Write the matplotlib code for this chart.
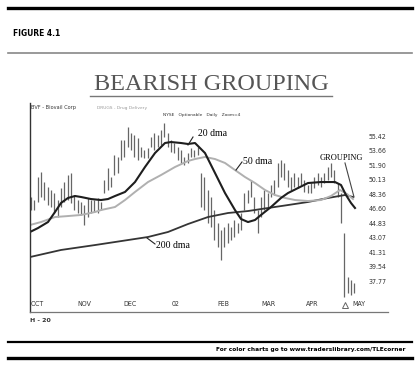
from matplotlib import pyplot as plt
from matplotlib.lines import Line2D

W, H = 420, 369

# 日线的最高价和最低价
bar_high = [48.12, 47.75, 50.55, 51.16, 49.94, 49.33, 48.97, 48.60, 47.75, 49.21,
            49.94, 50.79, 51.04, 48.36, 47.75, 47.51, 47.14, 48.00, 47.75, 47.75,
            48.00, 47.51, 50.19, 51.65, 50.55, 53.23, 52.99, 55.05, 55.05, 56.64,
            55.91, 55.66, 55.30, 54.20, 53.84, 54.08, 55.42, 55.91, 55.66, 56.27,
            57.12, 55.91, 55.05, 54.69, 54.20, 53.84, 52.99, 53.47, 54.08, 53.84,
            54.20, 51.04, 50.55, 48.97, 48.12, 46.53, 44.95, 44.10, 44.47, 44.95,
            44.47, 45.32, 44.95, 46.17, 48.60, 48.97, 50.19, 48.12, 46.53, 48.12,
            48.97, 48.60, 49.58, 50.19, 52.26, 52.62, 52.26, 51.40, 50.55, 51.04,
            50.55, 51.04, 50.19, 49.58, 49.82, 50.55, 51.04, 50.55, 51.04, 51.77,
            52.26, 51.40, 49.82, 48.60, 43.74, 38.38, 38.01, 37.65]
bar_low = [46.53, 46.53, 47.51, 48.12, 47.75, 47.14, 46.90, 46.17, 45.68, 46.90,
           47.51, 47.75, 47.39, 46.53, 46.17, 45.93, 44.71, 45.68, 46.17, 46.29,
           46.17, 46.53, 48.60, 48.97, 49.33, 50.79, 51.04, 52.62, 52.99, 54.20,
           53.84, 52.99, 52.62, 52.99, 52.86, 52.86, 54.20, 53.84, 54.20, 54.45,
           55.42, 54.20, 53.59, 53.47, 52.62, 52.26, 52.01, 52.26, 52.99, 52.99,
           53.23, 46.90, 46.53, 44.95, 44.47, 42.88, 42.03, 40.45, 42.03, 42.52,
           42.88, 43.25, 43.74, 44.10, 46.53, 47.39, 48.12, 46.17, 43.74, 45.68,
           46.53, 46.90, 48.12, 48.36, 49.33, 50.55, 50.19, 49.33, 48.97, 49.33,
           49.21, 49.58, 48.73, 48.60, 48.60, 49.21, 49.58, 49.33, 49.82, 50.19,
           50.55, 49.82, 48.12, 44.95, 35.95, 36.43, 36.19, 36.43]

# 移动平均线
ma20_x = [-0.3, 2.1, 5.1, 7.2, 9.0, 11.1, 13.2, 15.0, 18.0, 21.0, 23.1, 25.2, 28.2,
          31.2, 34.2, 37.2, 40.2, 42.0, 45.0, 47.1, 49.2, 52.2, 55.2, 58.2, 61.2,
          63.0, 65.1, 67.2, 69.0, 72.0, 75.0, 77.1, 80.1, 83.1, 87.0, 91.2, 93.0,
          94.5, 96.0, 97.2]
ma20_y = [43.86, 44.34, 45.07, 46.29, 47.39, 48.00, 48.24, 48.12, 47.87, 47.75, 47.87,
          48.24, 48.73, 49.94, 51.77, 53.47, 54.69, 54.81, 54.69, 54.57, 54.69, 53.47,
          51.04, 48.60, 46.53, 45.44, 45.07, 45.32, 45.93, 46.90, 48.00, 48.60, 49.21,
          49.82, 49.94, 49.94, 49.58, 48.36, 47.39, 46.78]
ma50_x = [-0.3, 3.0, 7.2, 11.1, 15.0, 19.2, 21.0, 25.2, 28.2, 31.2, 35.1, 39.0, 43.2,
          47.1, 49.2, 52.2, 55.2, 58.2, 61.2, 64.2, 67.2, 70.2, 73.2, 76.2, 79.2,
          83.1, 87.0, 90.0, 92.7, 94.8, 96.6]
ma50_y = [44.71, 45.07, 45.68, 45.80, 45.93, 46.29, 46.53, 46.90, 47.75, 48.73, 49.94,
          50.79, 51.77, 52.50, 52.74, 52.99, 52.74, 52.26, 51.40, 50.55, 49.82, 48.97,
          48.36, 48.00, 47.75, 47.63, 47.75, 48.24, 48.97, 48.48, 47.87]
ma200_x = [-0.3, 9.0, 19.2, 29.1, 35.1, 41.1, 47.1, 53.1, 59.1, 65.1, 71.1, 77.1,
           83.1, 89.1, 94.2, 96.6]
ma200_y = [40.81, 41.67, 42.27, 42.88, 43.25, 43.86, 44.83, 45.68, 46.17, 46.41,
           46.78, 47.14, 47.51, 48.00, 48.36, 48.12]

price_ticks = [55.42, 53.66, 51.90, 50.13, 48.36, 46.60, 44.83, 43.07, 41.31, 39.54, 37.77]
month_labels = ['OCT', 'NOV', 'DEC', '02', 'FEB', 'MAR', 'APR', 'MAY']
month_pos = [0.0, 13.8, 27.6, 42.3, 55.8, 69.0, 82.5, 96.3]

serif = ['Liberation Serif', 'DejaVu Serif']

fig = plt.figure(figsize=(W / 100, H / 100), dpi=100)
fig.patch.set_facecolor('white')


def fx(px):
    return px / W


def fy(py):
    return 1 - py / H


def hline(py, x0, x1, color, lw):
    fig.add_artist(Line2D([fx(x0), fx(x1)], [fy(py), fy(py)], color=color, lw=lw,
                          transform=fig.transFigure))


# 页面装饰线
hline(8, 8, 412, 'black', 2.4)
hline(53, 8, 412, '#888888', 1.2)
hline(96, 90, 332, '#777777', 1.0)
hline(342, 8, 412, 'black', 1.6)
hline(358, 8, 412, 'black', 2.4)

fig.text(fx(13), fy(33), 'FIGURE 4.1', weight='bold', fontsize=6, stretch='condensed',
         va='center', ha='left')
fig.text(fx(211), fy(84), 'BEARISH GROUPING', family=serif, fontsize=17.5,
         color='#555555', ha='center', va='center')
fig.text(fx(31), fy(108), 'BVF - Biovail Corp', fontsize=3.6, color='#333333',
         va='center', ha='left')
fig.text(fx(97), fy(108), 'DRUGS - Drug Delivery', fontsize=3.2, color='#999999',
         va='center', ha='left')
fig.text(fx(163), fy(115), 'NYSE   Optionable   Daily   Zoom=4', fontsize=3.2,
         color='#333333', va='center', ha='left')
fig.text(fx(30), fy(321), 'H - 20', fontsize=4.5, weight='bold', color='#333333',
         va='center', ha='left')
fig.text(fx(405), fy(350), 'For color charts go to www.traderslibrary.com/TLEcorner',
         fontsize=4.2, weight='bold', va='center', ha='right')

ax = fig.add_axes([fx(30), fy(312), fx(388) - fx(30), fy(103) - fy(312)])
ax.set_xlim(-0.3, 107.1)
ax.set_ylim(34.12, 59.56)
for s in ['top', 'right']:
    ax.spines[s].set_visible(False)
ax.spines['left'].set_color('#333333')
ax.spines['bottom'].set_color('#777777')
ax.spines['left'].set_linewidth(1.0)
ax.spines['bottom'].set_linewidth(0.9)
ax.set_xticks([])
ax.set_yticks([])
ax.patch.set_alpha(0)

idx = list(range(len(bar_high)))
ax.vlines(idx, bar_low, bar_high, color='#666666', lw=0.9)

ax.plot(ma200_x, ma200_y, color='#353535', lw=1.3)
ax.plot(ma50_x, ma50_y, color='#b0b0b0', lw=1.4)
ax.plot(ma20_x, ma20_y, color='#1e1e1e', lw=1.5)

# 标注
ax.text(50.1, 55.79, '20 dma', family=serif, fontsize=7, va='center', ha='left')
ax.plot([48.6, 47.1], [55.42, 54.45], color='#222222', lw=0.8)
ax.text(63.6, 52.38, '50 dma', family=serif, fontsize=7, va='center', ha='left')
ax.plot([63.3, 61.5], [52.38, 51.40], color='#222222', lw=0.8)
ax.text(37.5, 42.27, '200 dma', family=serif, fontsize=7, va='center', ha='left')
ax.plot([37.2, 34.8], [42.40, 43.13], color='#222222', lw=0.8)
ax.text(86.7, 52.86, 'GROUPING', family=serif, fontsize=6, va='center', ha='left')
ax.plot([94.2, 96.9], [52.26, 48.12], color='#444444', lw=0.8)

for p in price_ticks:
    ax.text(101.4, p, '%.2f' % p, fontsize=5, stretch='condensed', color='#333333',
            va='center', ha='left')
for m, x in zip(month_labels, month_pos):
    ax.text(x, 35.09, m, fontsize=5, stretch='condensed', color='#333333',
            va='center', ha='left')
ax.plot([94.2], [35.0], marker='^', ms=5, mfc='none', mec='#666666', mew=0.7)

plt.savefig('out.png', dpi=100)
